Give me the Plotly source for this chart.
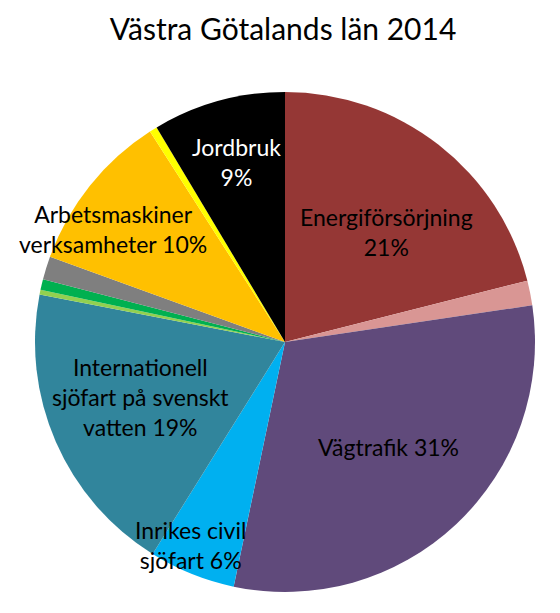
"""Pie chart: emissions by sector, Västra Götalands län 2014."""

import plotly.graph_objects as go

# Slices clockwise from 12 o'clock, shares in percent
sectors = [
    "Energiförsörjning",
    "Övrigt energi",
    "Vägtrafik",
    "Inrikes civil sjöfart",
    "Internationell sjöfart på svenskt vatten",
    "Övrigt 1",
    "Övrigt 2",
    "Övrigt 3",
    "Arbetsmaskiner verksamheter",
    "Övrigt 4",
    "Jordbruk",
]
shares = [21.1, 1.6, 30.7, 5.6, 19.2, 0.3, 0.7, 1.5, 10.4, 0.5, 8.6]
colors = [
    "#953735", "#D99694", "#604A7B", "#00B0F0", "#31859C",
    "#92D050", "#00B050", "#7F7F7F", "#FFC000", "#FFFF00", "#000000",
]

# Labelled slices: index -> text lines
label_text = {
    0: ["Energiförsörjning", "21%"],
    2: ["Vägtrafik 31%"],
    3: ["Inrikes civil", "sjöfart 6%"],
    4: ["Internationell", "sjöfart på svenskt", "vatten 19%"],
    8: ["Arbetsmaskiner", "verksamheter 10%"],
    10: ["Jordbruk", "9%"],
}
# label centres in pixels of the 560x613 page
label_pos = {0: (386, 232), 2: (388, 447), 3: (190, 545), 4: (140, 397),
             8: (113, 229), 10: (236, 162)}
label_color = {10: "white"}

W, H = 560, 613
OFF = 8  # page body margin shifts the plot by this much
FONT = "Lato, 'Open Sans', sans-serif"


def px(x):
    return (x - OFF) / W


def py(y):
    return 1 - (y - OFF) / H


fig = go.Figure(go.Pie(
    labels=sectors, values=shares,
    marker=dict(colors=colors, line=dict(width=0)),
    sort=False, direction="clockwise", rotation=0,
    textinfo="none", hoverinfo="label+percent",
    domain=dict(x=[px(35), px(535)], y=[py(592), py(92)]),
    showlegend=False,
))

for i, lines in label_text.items():
    x, y = label_pos[i]
    fig.add_annotation(
        x=px(x), y=py(y), xref="paper", yref="paper",
        xanchor="center", yanchor="middle",
        text="<br>".join(lines), showarrow=False,
        font=dict(family=FONT, size=23, color=label_color.get(i, "black")),
        align="center",
    )

fig.update_layout(
    title=dict(text="Västra Götalands län 2014", x=px(283), xanchor="center",
               y=py(29), yanchor="middle",
               font=dict(family=FONT, size=30, color="black")),
    width=W, height=H,
    margin=dict(l=0, r=0, t=0, b=0),
    paper_bgcolor="white", plot_bgcolor="white",
)

fig.write_html("out.html")
